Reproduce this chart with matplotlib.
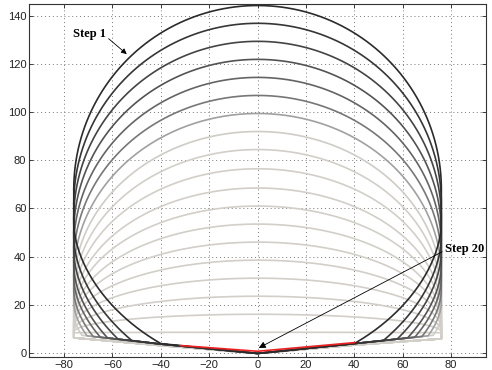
import numpy as np
import matplotlib.pyplot as plt

# height of each step's arc at x = 0 (step 1 .. 19)
step_top = [144.4, 137.0, 129.5, 122.0, 114.5, 107.0, 99.5, 92.0, 84.5, 76.5,
            68.5, 61.0, 53.5, 46.0, 38.5, 31.0, 23.5, 16.0, 8.5]
# height where each arc meets the side walls
step_wall = [68, 62, 56, 50, 44, 38, 32, 27, 23, 20, 17, 15, 13, 12, 11, 10, 9, 8.6, 8.3]
# lower curves of the first steps: wall height and |x| where they reach the floor
low_wall = [54, 48, 42, 36, 31, 26, 21, 16]
low_x = [40, 52, 57.7, 62, 65, 68, 70.5, 72.6]
step_color = ['#2b2b2b', '#363636', '#444444', '#535353', '#646464', '#777777', '#a0a0a0',
              '#cfccc6', '#d2cec8', '#d2cec8', '#d2cec8', '#d2cec8', '#d2cec8', '#d2cec8',
              '#d2cec8', '#d2cec8', '#d2cec8', '#d2cec8', '#d2cec8']

wall_x = 76
floor_x = [-76, -40, 0, 40, 76]
floor_dark = [8.2, 3.6, -0.3, 3.8, 7.6]
floor_light = [6.2, 3.0, -0.3, 3.2, 5.8]

# step 20 (red)
red_x = [-32, 0, 40]
red_y = [3.0, 0.6, 4.2]

q = 2 / 1.8  # lower curves slightly flatter than an ellipse


def step_outline(k):
    W = step_wall[k]
    b = step_top[k] - W
    th = np.linspace(0, np.pi, 300)
    xs = list(-wall_x * np.cos(th))
    ys = list(W + b * np.sin(th))
    if k < len(low_wall):
        L = low_wall[k]
        xb = low_x[k]
        yb = np.interp(xb, floor_x, floor_dark)
        t_end = np.arccos((xb / wall_x) ** (1 / q))
        bl = (L - yb) / np.sin(t_end) ** q
        t = np.linspace(0, t_end, 150)
        cx = wall_x * np.cos(t) ** q
        cy = L - bl * np.sin(t) ** q
        # right wall + right lower curve
        xs += [wall_x] + list(cx)
        ys += [L] + list(cy)
        # floor
        inner = [(fx, fy) for fx, fy in zip(floor_x, floor_dark) if abs(fx) < xb]
        for fx, fy in reversed(inner):
            xs.append(fx)
            ys.append(fy)
        # left lower curve + left wall
        xs += list(-cx[::-1]) + [-wall_x, -wall_x]
        ys += list(cy[::-1]) + [L, W]
    else:
        xs += list(floor_x[::-1]) + [-wall_x]
        ys += list(floor_light[::-1]) + [W]
    return xs, ys


fig = plt.figure(figsize=(4.92, 3.70), dpi=100)
ax = fig.add_axes([0.059, 0.035, 0.929, 0.954])

for k in reversed(range(len(step_top))):
    xs, ys = step_outline(k)
    ax.plot(xs, ys, color=step_color[k], lw=1.2, solid_joinstyle='round')

ax.plot(red_x, red_y, color='#ee2222', lw=1.2)

ax.annotate('Step 1', xy=(-54.1, 124.2), xytext=(-76.4, 132.6),
            fontsize=9, fontweight='bold', family='Liberation Serif',
            va='center', ha='left',
            arrowprops=dict(arrowstyle='-|>', color='k', lw=0.6,
                            mutation_scale=8, shrinkA=0, shrinkB=0,
                            relpos=(1.0, 0.3)))
ax.annotate('Step 20', xy=(0.5, 2.0), xytext=(77.5, 43.1),
            fontsize=9, fontweight='bold', family='Liberation Serif',
            va='center', ha='left', annotation_clip=False,
            arrowprops=dict(arrowstyle='-|>', color='k', lw=0.6,
                            mutation_scale=10, shrinkA=0, shrinkB=0,
                            relpos=(0.0, 0.4)))

ax.set_xlim(-94.5, 94.5)
ax.set_ylim(-1.8, 145)
ax.set_xticks(range(-80, 81, 20))
ax.set_yticks(range(0, 141, 20))
ax.grid(True, linestyle=(0, (1, 3)), color='#777777', lw=0.7)
ax.tick_params(direction='in', top=True, right=True, length=3, width=0.6,
               labelsize=8, pad=2, colors='#222222')
for lab in ax.get_xticklabels() + ax.get_yticklabels():
    lab.set_family('Liberation Sans')
for s in ax.spines.values():
    s.set_color('#333333')
    s.set_linewidth(0.8)

fig.savefig('out.png', dpi=100)
